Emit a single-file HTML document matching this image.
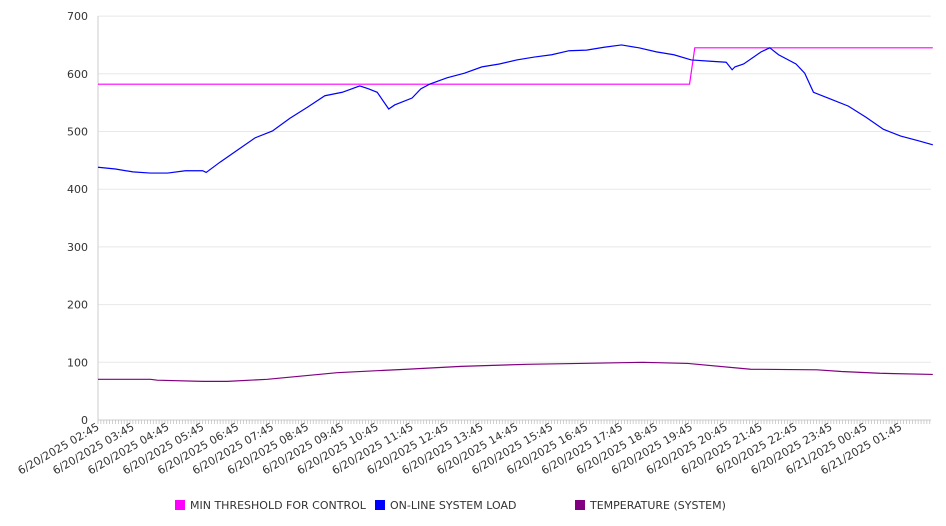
<!DOCTYPE html>
<html><head><meta charset="utf-8"><style>
body{margin:0;background:#fff;}
svg{display:block;font-family:"DejaVu Sans","Liberation Sans",sans-serif;}
</style></head><body>
<svg id="chart" width="946" height="526" viewBox="0 0 946 526" xmlns="http://www.w3.org/2000/svg">
<g id="grid"></g>
<g id="yaxis"></g>
<g id="xaxis"></g>
<g id="series"></g>
<g font-size="11" fill="#333">
 <g><rect x="175" y="500" width="10" height="10" fill="#ff00ff"/><text x="190" y="509">MIN THRESHOLD FOR CONTROL</text></g>
 <g><rect x="375" y="500" width="10" height="10" fill="#0000ff"/><text x="390" y="509">ON-LINE SYSTEM LOAD</text></g>
 <g><rect x="575" y="500" width="10" height="10" fill="#800080"/><text x="590" y="509">TEMPERATURE (SYSTEM)</text></g>
</g>
</svg>
<script>
const yTicks=[0,100,200,300,400,500,600,700];
const xLabels=["6/20/2025 02:45","6/20/2025 03:45","6/20/2025 04:45","6/20/2025 05:45","6/20/2025 06:45","6/20/2025 07:45","6/20/2025 08:45","6/20/2025 09:45","6/20/2025 10:45","6/20/2025 11:45","6/20/2025 12:45","6/20/2025 13:45","6/20/2025 14:45","6/20/2025 15:45","6/20/2025 16:45","6/20/2025 17:45","6/20/2025 18:45","6/20/2025 19:45","6/20/2025 20:45","6/20/2025 21:45","6/20/2025 22:45","6/20/2025 23:45","6/21/2025 00:45","6/21/2025 01:45"];
const loadHours=[0,0.5,1,1.5,2,2.5,3,3.1,3.5,4,4.5,5,5.5,6,6.5,7,7.5,7.75,8,8.33,8.5,9,9.25,9.5,10,10.5,11,11.5,12,12.5,13,13.5,14,14.5,15,15.5,16,16.5,17,17.5,18,18.17,18.25,18.5,19,19.25,19.5,20,20.25,20.5,21,21.5,22,22.5,23,23.5,23.92];
const loadValues=[438,435,430,428,428,432,432,429,447,468,489,501,523,542,562,568,579,574,568,539,546,558,574,582,593,601,612,617,624,629,633,640,641,646,650,645,638,633,624,622,620,607,612,617,638,645,633,617,601,568,556,544,525,504,492,484,477];
const threshHours=[0,16.95,17.1,23.92];
const threshValues=[582,582,645,645];
const tempHours=[0,1.5,1.7,3.0,3.7,4.85,6.85,8.85,10.4,12.3,13.8,15.6,16.9,18.7,20.6,21.3,22.4,23.92];
const tempValues=[70.5,70.5,69,67,67,70.5,82,88,93,96.5,98,100,98,88,87,84,81,79];

const NS="http://www.w3.org/2000/svg";
const X0=98,X1=933,PXH=34.9,Y0=420,PXV=0.577;
const xs=h=>X0+h*PXH, ys=v=>Y0-v*PXV;
function mk(tag,attrs,parent){const e=document.createElementNS(NS,tag);for(const k in attrs)e.setAttribute(k,attrs[k]);parent.appendChild(e);return e;}
const grid=document.getElementById('grid'),yaxis=document.getElementById('yaxis'),xaxis=document.getElementById('xaxis'),series=document.getElementById('series');
yTicks.forEach(v=>{
 const l=mk('line',{x1:X0,x2:931,y1:ys(v),y2:ys(v),stroke:'#e8e8e8','stroke-width':1},grid);
 
 
 const t=mk('text',{x:88,y:ys(v)+4,'text-anchor':'end','font-size':11,fill:'#333'},yaxis);
 t.textContent=v;
 
 
});
mk('line',{x1:X0,x2:X0,y1:16,y2:Y0,stroke:'#ccc'},yaxis);
mk('line',{x1:X0,x2:931,y1:Y0,y2:Y0,stroke:'#ccc'},xaxis);
for(let i=0;i<=287;i++){const x=xs(i/12);if(x>931)break;mk('line',{x1:x,x2:x,y1:Y0,y2:Y0+4,stroke:'#bbb','stroke-width':0.7},xaxis);}
xLabels.forEach((s,i)=>{
 const x=xs(i)+2;
 const t=mk('text',{x:x,y:429,'text-anchor':'end','font-size':11,fill:'#333',transform:`rotate(-30 ${x} 429)`},xaxis);
 t.textContent=s;
 
 
});
function line(hs,vs,color,name){
 const p=mk('polyline',{points:hs.map((h,i)=>xs(h)+','+ys(vs[i])).join(' '),fill:'none',stroke:color,'stroke-width':1.2},series);
 
 
}
line(threshHours,threshValues,'#ff00ff','threshold-line');
line(tempHours,tempValues,'#800080','temperature-line');
line(loadHours,loadValues,'#0000ff','system-load-line');
</script>
</body></html>
